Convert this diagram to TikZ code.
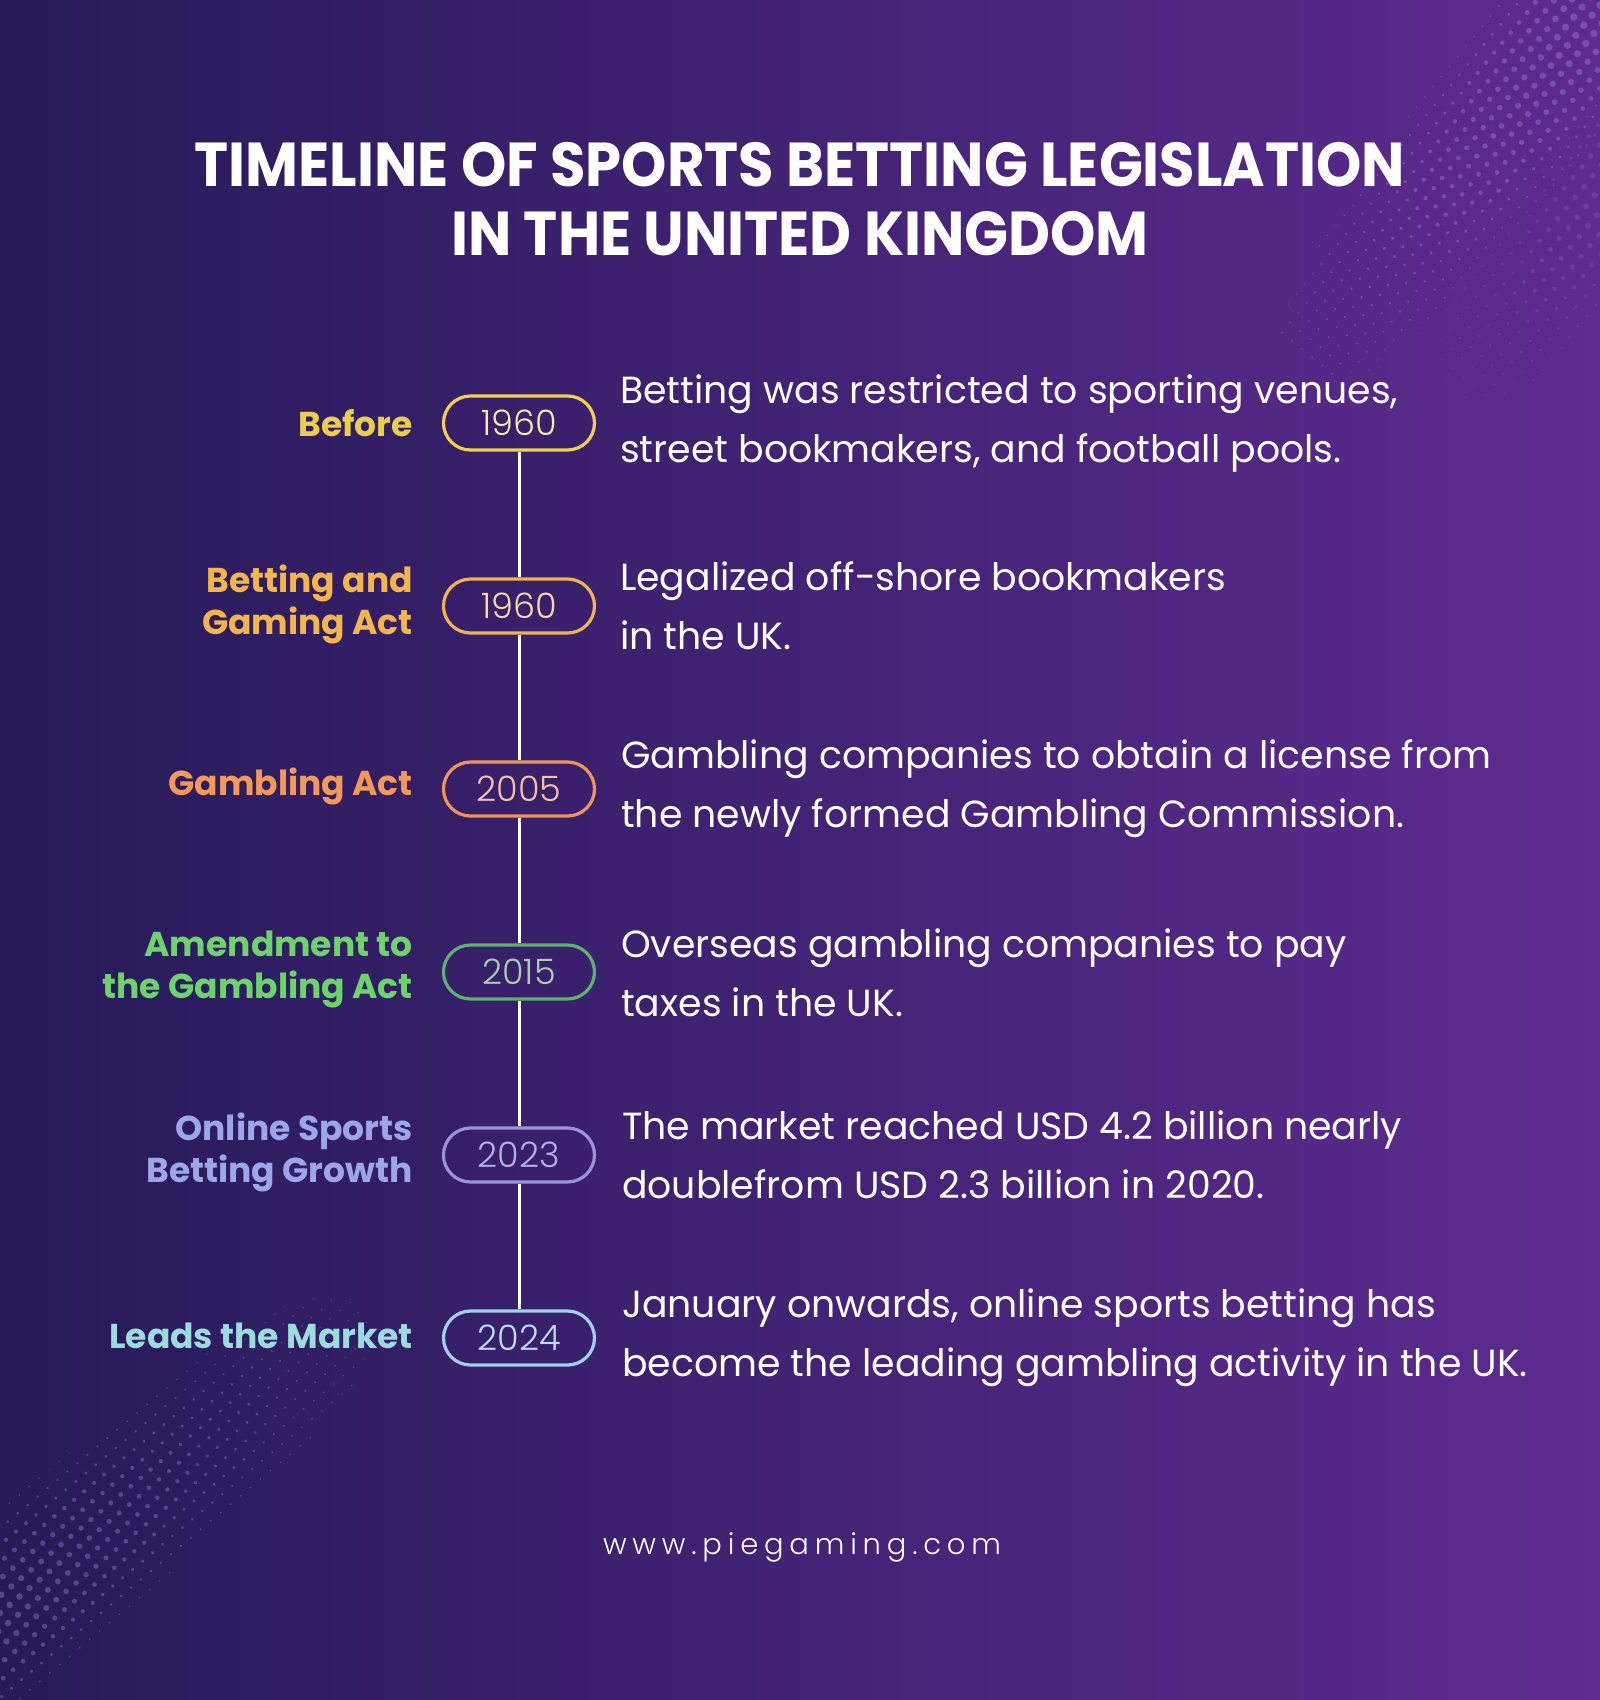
\documentclass[tikz,border=0pt]{standalone}
\usepackage{fontspec}
\setmainfont{Poppins}
\newfontfamily\headfont[FakeStretch=0.93]{Poppins}
\newfontfamily\webfont[LetterSpace=20]{Poppins Light}
\newfontfamily\yearfont{Poppins Light}
\definecolor{bgleft}{HTML}{261A58}
\definecolor{bgright}{HTML}{5E2B90}
\definecolor{dotlav}{HTML}{A890E8}
\definecolor{lblyellow}{HTML}{E9CF4B}
\definecolor{lblgold}{HTML}{F3B64C}
\definecolor{lblorange}{HTML}{F2995A}
\definecolor{lblgreen}{HTML}{6DD46B}
\definecolor{lbllav}{HTML}{9CA6E8}
\definecolor{lblcyan}{HTML}{9ADCE0}
\definecolor{pillyellow}{HTML}{F0D050}
\definecolor{pillgold}{HTML}{F0B252}
\definecolor{pillorange}{HTML}{F0955A}
\definecolor{pillgreen}{HTML}{5DB36E}
\definecolor{pilllav}{HTML}{9B95D8}
\definecolor{pillcyan}{HTML}{9FD0EE}
\definecolor{yryellow}{HTML}{F6EAA8}
\definecolor{yrgold}{HTML}{F7D8A6}
\definecolor{yrorange}{HTML}{F6C0A8}
\definecolor{yrgreen}{HTML}{A9CDB0}
\definecolor{yrlav}{HTML}{B4B0E8}
\definecolor{yrcyan}{HTML}{C0DCF6}
\usetikzlibrary{positioning}

\begin{document}
\begin{tikzpicture}[
  x=1pt, y=-1pt,
  yearpill/.style={
    rectangle, rounded corners=27pt,
    minimum width=151pt, minimum height=54pt,
    line width=3.2pt, inner sep=0pt,
    font=\fontsize{35}{35}\selectfont\yearfont
  },
  actlabel/.style={
    anchor=east, align=right, inner sep=0pt,
    font=\fontsize{34.5}{42}\selectfont\bfseries
  },
  desc/.style={
    anchor=west, align=left, inner sep=0pt, text=white,
    font=\fontsize{37.8}{59}\selectfont
  },
  spine/.style={line width=3pt, draw=white},
  halftone/.style={fill=dotlav, fill opacity=0.36}
]
\useasboundingbox (0,0) rectangle (1600,1700);
\shade[left color=bgleft, right color=bgright] (0,0) rectangle (1600,1700);

\begin{scope}[shift={(1625,-25)}, rotate=230.7]
  \foreach \u in {0,13,...,500}
    \foreach \v in {-78,-65,...,78} {
      \pgfmathsetmacro\rad{4.2*(1-(\v/92)^2)*(1-\u/620)}
      \ifdim\rad pt>0.7pt \fill[halftone] (\u,\v) circle (\rad pt); \fi
    }
\end{scope}
\begin{scope}[shift={(1650,150)}, rotate=230.7]
  \foreach \u in {0,14,...,330}
    \foreach \v in {-70,-56,...,70} {
      \pgfmathsetmacro\rad{4*(1-(\v/84)^2)*(1-\u/380)}
      \ifdim\rad pt>0.7pt \fill[halftone, fill opacity=0.18] (\u,\v) circle (\rad pt); \fi
    }
\end{scope}
\begin{scope}[shift={(-80,1680)}, rotate=40]
  \foreach \u in {0,13,...,600}
    \foreach \v in {-78,-65,...,78} {
      \pgfmathsetmacro\rad{4*(1-(\v/92)^2)*(1-\u/700)}
      \ifdim\rad pt>0.7pt \fill[halftone] (\u,\v) circle (\rad pt); \fi
    }
\end{scope}

\node[text=white, align=center, inner sep=0pt,
  font=\fontsize{62}{69}\selectfont\headfont\bfseries] (title) at (800,199)
  {TIMELINE OF SPORTS BETTING LEGISLATION\\IN THE UNITED KINGDOM};

\node[yearpill, draw=pillyellow, text=yryellow] (y1) at (519,423)  {1960};
\node[yearpill, draw=pillgold,   text=yrgold]   (y2) at (519,606)  {1960};
\node[yearpill, draw=pillorange, text=yrorange] (y3) at (519,789)  {2005};
\node[yearpill, draw=pillgreen,  text=yrgreen]  (y4) at (519,972)  {2015};
\node[yearpill, draw=pilllav,    text=yrlav]    (y5) at (519,1155) {2023};
\node[yearpill, draw=pillcyan,   text=yrcyan]   (y6) at (519,1338) {2024};

\draw[spine] (y1) -- (y2);
\draw[spine] (y2) -- (y3);
\draw[spine] (y3) -- (y4);
\draw[spine] (y4) -- (y5);
\draw[spine] (y5) -- (y6);

\node[actlabel, text=lblyellow] (a1) at (413,423)  {Before};
\node[actlabel, text=lblgold]   (a2) at (413,604)  {Betting and\\Gaming Act};
\node[actlabel, text=lblorange] (a3) at (413,786)  {Gambling Act};
\node[actlabel, text=lblgreen]  (a4) at (413,969)  {Amendment to\\the Gambling Act};
\node[actlabel, text=lbllav]    (a5) at (413,1152) {Online Sports\\Betting Growth};
\node[actlabel, text=lblcyan]   (a6) at (413,1336) {Leads the Market};

\node[desc] (d1) at (620,424)
  {Betting was restricted to sporting venues,\\street bookmakers, and football pools.};
\node[desc] (d2) at (620,606)
  {Legalized off-shore bookmakers\\in the UK.};
\node[desc] (d3) at (621,789)
  {Gambling companies to obtain a license from\\the newly formed Gambling Commission.};
\node[desc] (d4) at (621,973)
  {Overseas gambling companies to pay\\taxes in the UK.};
\node[desc] (d5) at (622,1155)
  {The market reached USD 4.2 billion nearly\\doublefrom USD 2.3 billion in 2020.};
\node[desc] (d6) at (622,1338)
  {January onwards, online sports betting has\\become the leading gambling activity in the UK.};

\node[text=white, inner sep=0pt, font=\fontsize{29}{29}\selectfont\webfont] (web) at (802,1547)
  {www.piegaming.com};
\end{tikzpicture}
\end{document}
